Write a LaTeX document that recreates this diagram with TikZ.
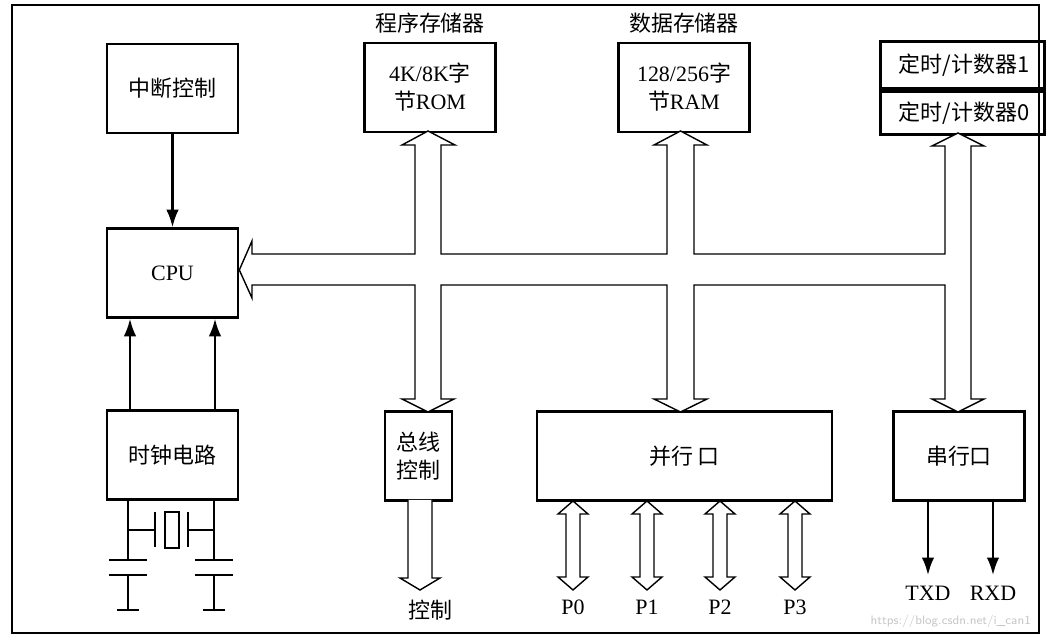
\documentclass[tikz,border=0pt]{standalone}
\usepackage{fontspec}
\setmainfont{Liberation Serif}
\newfontfamily\cjk{Noto Sans CJK SC}
\usetikzlibrary{arrows.meta}
\begin{document}
\begin{tikzpicture}[
  x=0.02cm, y=-0.02cm,
  font=\fontsize{12.5}{16}\selectfont,
  unit/.style={rectangle,draw,line width=1.5pt,minimum width=2.62cm,minimum height=1.78cm,align=center,inner sep=1pt},
  hollow/.style={draw,line width=0.8pt,fill=white},
  sig/.style={-{Latex[length=3.5mm,width=2.5mm]},line width=1.2pt},
  wire/.style={line width=1.2pt}
  ]
  \useasboundingbox (0,0) rectangle (1063,638);
  \draw[line width=1pt] (12,5) rectangle (1039,633);
  % upper row
  \node[unit] (irq) at (172.5,88.5) {\cjk 中断控制};
  \node[unit] (rom) at (430,87.5) {4K/8K{\cjk 字}\\{\cjk 节}ROM};
  \node[above=1pt] at (rom.north) {\cjk 程序存储器};
  \node[unit] (ram) at (684,87.5) {128/256{\cjk 字}\\{\cjk 节}RAM};
  \node[above=1pt] at (ram.north) {\cjk 数据存储器};
  \node[unit,minimum width=3.28cm,minimum height=0.94cm,anchor=south west] (t1) at (879,90) {\,\cjk 定时/计数器1};
  \node[unit,minimum width=3.28cm,minimum height=0.86cm,anchor=north west] (t0) at (879,90) {\,\cjk 定时/计数器0};
  % middle and lower row
  \node[unit] (cpu) at (172.5,273) {CPU};
  \node[unit] (clk) at (172.5,455) {\cjk 时钟电路};
  \node[unit,minimum width=1.34cm] (bus) at (418.5,456) {\cjk 总线\\\cjk 控制};
  \node[unit,minimum width=5.9cm] (par) at (684.5,456) {\cjk 并行\ 口};
  \node[unit] (ser) at (959,456) {\cjk 串行口};
  % control lines
  \draw[sig] (irq) -- (cpu);
  \coordinate (xa) at (130,410);
  \coordinate (xb) at (215,410);
  \draw[sig] (xa) -- (xa |- cpu.south);
  \draw[sig] (xb) -- (xb |- cpu.south);
  % internal bus
  \draw[hollow] (cpu.east |- 0,270) -- (252,241) -- (252,254) -- (415,254) -- (415,145) -- (402,145) -- (428,131)
    -- (455,145) -- (441,145) -- (441,254) -- (667,254) -- (667,145) -- (654,145) -- (680.5,131) -- (707,145) -- (694,145)
    -- (694,254) -- (945,254) -- (945,146) -- (932,146) -- (958,133) -- (984,146) -- (971,146) -- (971,399) -- (984,399)
    -- (958,412) -- (932,399) -- (945,399) -- (945,285) -- (694,285) -- (694,399) -- (707,399) -- (680.5,412) -- (654,399)
    -- (667,399) -- (667,285) -- (441,285) -- (441,399) -- (454,399) -- (428,412) -- (402,399) -- (415,399) -- (415,285)
    -- (252,285) -- (252,298) -- cycle;
  % crystal and capacitors
  \draw[wire] (128,500) -- (128,560) (214,500) -- (214,560);
  \draw[wire] (128,530) -- (155,530) (188,530) -- (214,530);
  \draw[wire] (155,512) -- (155,547) (188,512) -- (188,547);
  \draw[wire] (165,512) rectangle (179,548);
  \foreach \cx in {128,214} {
    \draw[wire] (\cx-19,560) -- (\cx+19,560) (\cx-19,575) -- (\cx+19,575);
    \draw[wire] (\cx,575) -- (\cx,610) (\cx-11,610) -- (\cx+11,610);
  }
  % bus control output
  \draw[hollow] (408,500) -- (408,578) -- (400,578) -- (420,590) -- (440,578) -- (432,578) -- (432,500);
  \node (ctltxt) at (430,610) {\cjk 控制};
  % ports
  \foreach \i/\px in {0/573,1/647,2/720,3/795} {
    \draw[hollow] (\px,501) -- (\px+15,514) -- (\px+7,514) -- (\px+7,577) -- (\px+15,577) -- (\px,590)
      -- (\px-15,577) -- (\px-7,577) -- (\px-7,514) -- (\px-15,514) -- cycle;
    \node (pl\i) at (\px,607) {P\i};
  }
  % serial lines
  \coordinate (tx) at (928,500);
  \coordinate (rx) at (993,500);
  \draw[sig] (tx) -- (tx |- 0,575);
  \draw[sig] (rx) -- (rx |- 0,575);
  \node (txd) at (tx |- 0,593) {TXD};
  \node (rxd) at (rx |- 0,593) {RXD};
  \node[text=gray!45,font=\sffamily\scriptsize,anchor=east] (wm) at (1037,621) {https://blog.csdn.net/i\_can1};
\end{tikzpicture}
\end{document}
